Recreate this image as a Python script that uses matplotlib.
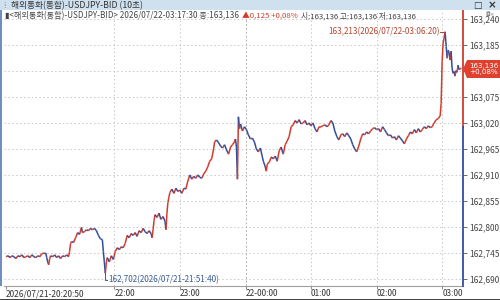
import matplotlib
matplotlib.use("Agg")
import matplotlib.pyplot as plt
from matplotlib.collections import LineCollection
from matplotlib.patches import Rectangle, Polygon

plt.rcParams['font.family'] = ['Noto Sans CJK KR', 'DejaVu Sans']

# minutes after 2026/07/21 20:00
times = [20.8, 22.7, 24.5, 26.3, 28.1, 29.9, 31.7, 33.6, 35.4, 37.2, 39.0, 40.8, 42.6, 44.5, 46.3, 48.1,
         49.9, 51.7, 53.6, 55.4, 56.3, 57.2, 58.1, 59.0, 59.9, 60.8, 61.7, 63.6, 65.4, 67.2, 69.0, 70.8,
         72.6, 74.5, 76.3, 78.1, 79.0, 79.9, 80.8, 82.6, 84.5, 86.3, 88.1, 89.9, 90.8, 92.6, 94.5, 96.3,
         98.1, 99.9, 101.7, 103.6, 105.4, 107.2, 109.0, 109.9, 110.8, 111.7, 112.6, 113.5, 115.4, 117.2,
         119.0, 120.8, 122.6, 124.5, 126.3, 128.1, 129.9, 131.7, 133.6, 135.4, 137.2, 139.0, 140.8, 142.6,
         144.5, 146.3, 148.1, 149.9, 151.7, 153.6, 154.5, 155.4, 156.3, 157.2, 159.0, 160.8, 162.6, 164.5,
         166.3, 167.2, 168.1, 169.0, 169.9, 170.8, 172.6, 174.5, 176.3, 178.1, 179.9, 181.7, 183.6, 185.4,
         187.2, 189.0, 190.8, 192.6, 194.5, 196.3, 198.1, 199.9, 201.7, 203.6, 205.4, 207.2, 209.0, 210.8,
         211.7, 213.5, 215.4, 217.2, 219.0, 220.8, 222.6, 224.5, 226.3, 228.1, 229.9, 230.8, 231.7, 232.6,
         233.5, 234.5, 235.4, 237.2, 239.0, 240.8, 242.6, 244.5, 246.3, 248.1, 249.9, 251.7, 253.6, 255.4,
         256.3, 258.1, 259.0, 259.9, 261.7, 263.6, 265.4, 267.2, 269.0, 270.8, 272.6, 274.5, 276.3, 278.1,
         279.9, 281.7, 283.6, 285.4, 287.2, 289.0, 290.8, 292.6, 294.5, 296.3, 298.1, 299.9, 301.7, 303.6,
         305.4, 307.2, 309.0, 310.8, 312.6, 314.5, 316.3, 318.1, 319.9, 321.7, 323.6, 325.4, 327.2, 329.0,
         330.8, 332.6, 334.5, 336.3, 338.1, 339.9, 341.7, 343.6, 345.4, 347.2, 349.0, 350.8, 352.6, 354.5,
         356.3, 358.1, 359.9, 361.7, 363.6, 365.4, 367.2, 369.0, 370.8, 372.6, 374.5, 376.3, 378.1, 379.9,
         381.7, 383.6, 385.4, 387.2, 389.0, 390.8, 392.6, 394.5, 396.3, 398.1, 399.9, 401.7, 403.6, 405.4,
         407.2, 409.0, 410.8, 412.6, 414.5, 416.3, 418.1, 419.0, 419.9, 420.8, 421.7, 422.6, 423.6, 424.5,
         425.4, 426.3, 427.2, 428.1, 429.0, 429.9, 430.8, 431.7, 432.6, 433.5, 434.5, 435.4, 437.5]

prices = [162.737, 162.739, 162.735, 162.739, 162.737, 162.733, 162.739, 162.737, 162.741, 162.735,
          162.737, 162.739, 162.735, 162.741, 162.737, 162.735, 162.739, 162.737, 162.743, 162.745,
          162.743, 162.745, 162.735, 162.726, 162.720, 162.733, 162.739, 162.737, 162.741, 162.735,
          162.739, 162.733, 162.739, 162.737, 162.741, 162.737, 162.748, 162.765, 162.769, 162.767,
          162.777, 162.788, 162.784, 162.799, 162.788, 162.790, 162.794, 162.792, 162.797, 162.794,
          162.797, 162.792, 162.782, 162.775, 162.773, 162.748, 162.726, 162.702, 162.724, 162.735,
          162.726, 162.739, 162.731, 162.748, 162.756, 162.752, 162.758, 162.756, 162.765, 162.782,
          162.777, 162.786, 162.782, 162.788, 162.780, 162.792, 162.788, 162.797, 162.790, 162.786,
          162.792, 162.786, 162.777, 162.794, 162.814, 162.826, 162.820, 162.829, 162.816, 162.822,
          162.812, 162.794, 162.829, 162.852, 162.863, 162.873, 162.880, 162.871, 162.882, 162.875,
          162.878, 162.871, 162.882, 162.880, 162.897, 162.910, 162.901, 162.907, 162.903, 162.910,
          162.905, 162.903, 162.912, 162.918, 162.927, 162.939, 162.944, 162.965, 162.980, 162.984,
          162.978, 162.971, 162.967, 162.974, 162.963, 162.954, 162.969, 162.974, 162.980, 162.986,
          162.969, 162.901, 163.033, 163.008, 163.018, 163.003, 163.012, 163.006, 162.995, 162.986,
          162.988, 162.980, 162.965, 162.959, 162.967, 162.948, 162.939, 162.927, 162.918, 162.933,
          162.937, 162.948, 162.944, 162.950, 162.939, 162.961, 162.969, 162.954, 162.974, 162.982,
          162.991, 163.012, 163.016, 163.025, 163.020, 163.027, 163.018, 163.020, 163.025, 163.016,
          163.020, 163.014, 163.020, 163.008, 163.001, 163.012, 163.012, 163.014, 163.016, 163.012,
          163.016, 163.025, 163.020, 163.003, 162.991, 162.984, 162.995, 162.997, 162.991, 162.999,
          162.993, 162.986, 162.974, 162.965, 162.959, 162.971, 162.986, 162.997, 162.995, 163.001,
          162.997, 163.003, 163.008, 163.010, 163.006, 163.008, 163.001, 163.012, 163.006, 162.999,
          162.993, 162.995, 162.988, 162.991, 162.984, 162.993, 162.988, 162.982, 162.976, 162.986,
          162.993, 163.001, 162.997, 163.006, 162.999, 163.008, 163.001, 163.006, 163.012, 163.008,
          163.014, 163.010, 163.012, 163.020, 163.027, 163.029, 163.035, 163.061, 163.150, 163.189,
          163.200, 163.213, 163.182, 163.157, 163.174, 163.168, 163.153, 163.172, 163.136, 163.125,
          163.129, 163.119, 163.131, 163.127, 163.142, 163.133, 163.136]

y_ticks = [162.690, 162.745, 162.800, 162.855, 162.910, 162.965, 163.020, 163.075, 163.130, 163.185, 163.240]
x_tick_pos = [20.83, 120, 180, 240, 300, 360, 420]
x_tick_labels = ["2026/07/21-20:20:50", "22:00", "23:00", "22-00:00", "01:00", "02:00", "03:00"]
prev_close = 163.011
last_price = 163.136
last_change = "+0,08%"
high_val, high_time, high_label = 163.213, 422.6, "163,213(2026/07/22-03:06:20)"
low_val, low_time, low_label = 162.702, 111.7, "162,702(2026/07/21-21:51:40)"
title = "해외통화(통합)-USDJPY-BID (10초)"
info_a = "▮<해외통화(통합)-USDJPY-BID> 2026/07/22-03:17:30 종:163,136"
info_b = "▲0,125 +0,08%"
info_c = "시:163,136 고:163,136 저:163,136"

RED = "#d23c2c"
BLUE = "#2f4f9e"
W, H = 500, 300

fig = plt.figure(figsize=(5, 3), dpi=100)
fig.patch.set_facecolor("white")

def fx(px):
    return px / W

def fy(py):
    return 1 - py / H

ax = fig.add_axes([fx(4), fy(286), (463 - 4) / W, (286 - 10) / H])
ax.set_xlim(19.0, 439.0)
ax.set_ylim(162.675, 163.259)

# price line with up/down coloring
segs, cols = [], []
for i in range(len(times) - 1):
    segs.append([(times[i], prices[i]), (times[i + 1], prices[i + 1])])
    cols.append(RED if prices[i + 1] >= prices[i] else BLUE)
ax.add_collection(LineCollection(segs, colors=cols, linewidths=1.1, zorder=3))

# grid
for v in y_ticks:
    ax.axhline(v, color="#c8c8c8", lw=0.7, ls=(0, (1.5, 2.5)), zorder=1)
for p in x_tick_pos[1:]:
    ax.axvline(p, color="#b0b0b0" if p == 240 else "#c8c8c8", lw=0.7,
               ls=(0, (2, 2)) if p == 240 else (0, (1.5, 2.5)), zorder=1)

# axes styling
for s in ["top", "left", "right"]:
    ax.spines[s].set_visible(False)
ax.spines["bottom"].set_color("#a0a0a0")
ax.spines["bottom"].set_linewidth(0.8)
ax.yaxis.tick_right()
ax.set_yticks(y_ticks)
# the tick nearest the current price is covered by the price tag
ylabels = ["" if abs(v - last_price) < 0.02 else f"{v:.3f}".replace(".", ",") for v in y_ticks]
ax.set_yticklabels(ylabels)
ax.tick_params(axis="y", length=3, width=0.6, colors="#555555", labelsize=6.0, pad=1.5,
               labelcolor="#444444")
ax.set_xticks(x_tick_pos)
ax.set_xticklabels(x_tick_labels)
for i, lab in enumerate(ax.get_xticklabels()):
    lab.set_horizontalalignment("left")
    if i == 0:
        lab.set_fontsize(5.4)
ax.tick_params(axis="x", length=2.5, width=0.6, colors="#777777", labelsize=6.0, pad=0,
               labelcolor="#333333")

# right axis line: red above previous close, blue below
ax.plot([1.0, 1.0], [prev_close, 163.259], transform=ax.get_yaxis_transform(), color=RED,
        lw=1.3, clip_on=False, zorder=5)
ax.plot([1.0, 1.0], [162.675, prev_close], transform=ax.get_yaxis_transform(), color=BLUE,
        lw=1.3, clip_on=False, zorder=5)

# high / low annotations
ax.text(high_time - 4.5, high_val, high_label, ha="right", va="center", fontsize=5.8,
        color="#b5452f", zorder=4)
ax.plot([high_time - 4.3, high_time - 0.3], [high_val, high_val], color="#b5452f", lw=0.7, zorder=4)
ax.plot([high_time - 0.3, high_time - 0.3], [high_val, high_val - 0.004], color="#b5452f", lw=0.7, zorder=4)
ax.plot([low_time, low_time, low_time + 2.0], [low_val, 162.688, 162.688], color="#3a5d95", lw=0.7, zorder=4)
ax.text(low_time + 2.3, 162.688, low_label, ha="left", va="center", fontsize=5.8,
        color="#3a5d95", zorder=4)

# title bar
fig.patches.append(Rectangle((0, fy(10)), 1, 10 / H, transform=fig.transFigure,
                             facecolor="#cfe0ef", edgecolor="none", zorder=0))
fig.text(fx(3), fy(5), "⁞", fontsize=6, color="#777777", va="center", ha="left")
fig.text(fx(11), fy(5.5), title, fontsize=6.3, color="#333333", va="center", ha="left")
fig.text(fx(477), fy(5.5), "□", fontsize=6.5, color="#333333", va="center", ha="center",
         family=["DejaVu Sans"])
fig.text(fx(492), fy(5.5), "×", fontsize=7.5, color="#333333", va="center", ha="center",
         weight="bold", family=["DejaVu Sans"])
fig.text(fx(490), fy(14), "◘×", fontsize=4.2, color="#888888", va="center", ha="center",
         family=["DejaVu Sans"])

# info line (segments placed one after another)
renderer = fig.canvas.get_renderer()
ta = fig.text(fx(5), fy(16), info_a, fontsize=5.85, color="#444444", va="center", ha="left")
a_end = ta.get_window_extent(renderer).x1
tb = fig.text(max(fx(242), (a_end + 2) / W), fy(16), info_b, fontsize=5.6, color=RED,
              va="center", ha="left")
b_end = tb.get_window_extent(renderer).x1
tc = fig.text(max(fx(292), (b_end + 3) / W), fy(16), info_c, fontsize=5.6, color="#444444",
              va="center", ha="left")

# current price tag
py0, py1 = 60, 78
poly = Polygon([(fx(463), fy(69)), (fx(467), fy(py0)), (fx(500), fy(py0)), (fx(500), fy(py1)),
                (fx(467), fy(py1))], closed=True, transform=fig.transFigure,
               facecolor="#e0402e", edgecolor="none", zorder=10)
fig.patches.append(poly)
fig.text(fx(483.5), fy(69), f"{last_price:.3f}".replace(".", ",") + "\n" + last_change,
         fontsize=5.1, color="white", ha="center", va="center", linespacing=1.05,
         multialignment="center", zorder=11, family=["DejaVu Sans"])

# window borders
fig.patches.append(Rectangle((0, fy(286)), 2 / W, 276 / H, transform=fig.transFigure,
                             facecolor="#6f8fbf", edgecolor="none"))
fig.patches.append(Rectangle((0, 0), 1, 1.5 / H, transform=fig.transFigure,
                             facecolor="#444444", edgecolor="none"))

fig.savefig("out.png", dpi=100)
